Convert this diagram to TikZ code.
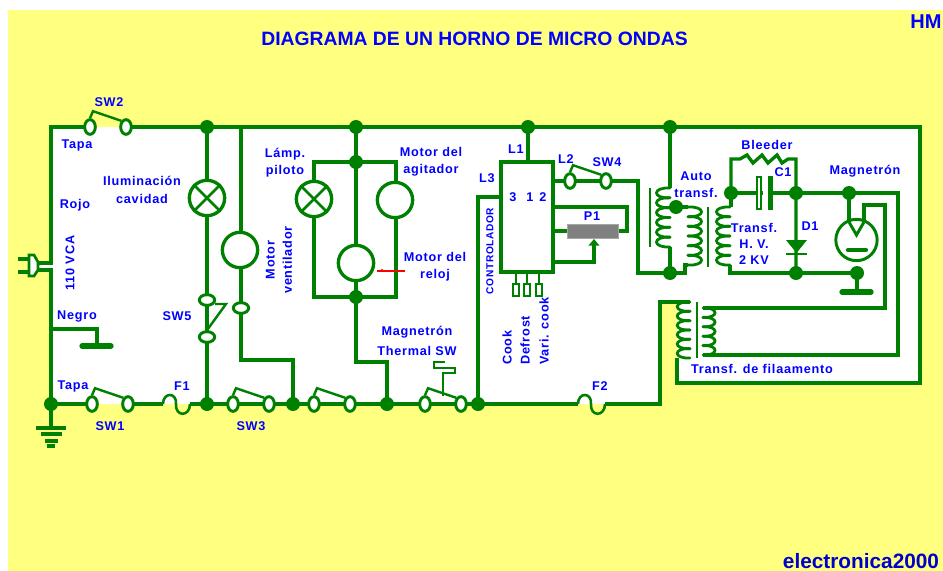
\documentclass[tikz,border=0pt]{standalone}
\usepackage{fontspec}
\setmainfont{Liberation Sans}
\newfontfamily\lblfont{Liberation Sans}[LetterSpace=6]
\usetikzlibrary{shapes.geometric,arrows.meta}
\definecolor{bgy}{HTML}{FFFF80}
\definecolor{wg}{HTML}{008000}
\definecolor{tb}{HTML}{0000FF}
\tikzset{
  wire/.style={draw=wg,line width=2.5pt,line join=miter},
  thinw/.style={draw=wg,line width=1.3pt},
  blade/.style={draw=wg,line width=1.8pt},
  junction/.style={circle,fill=wg,inner sep=0pt,minimum size=10.5pt},
  termh/.style={ellipse,draw=wg,line width=2.2pt,fill=white,inner sep=0pt,minimum width=8pt,minimum height=11pt},
  termv/.style={ellipse,draw=wg,line width=2.2pt,fill=white,inner sep=0pt,minimum width=11.5pt,minimum height=8pt},
  load/.style={circle,draw=wg,line width=2.5pt,fill=white,inner sep=0pt,minimum size=26.5pt},
  lbl/.style={text=tb,font=\lblfont\bfseries\fontsize{9.5}{11}\selectfont,inner sep=0pt,align=center},
  pin/.style={rectangle,draw=wg,line width=1.2pt,fill=white,inner sep=0pt,minimum width=4.5pt,minimum height=9pt},
  hbar/.style={draw=wg,line width=4pt,line cap=round},
  core/.style={draw=wg,line width=1.9pt}
}
\newcommand{\coil}[5]{% x, y0, n, pitch, signed bulge
  \foreach \k in {1,...,#3}{
    \draw[draw=wg,line width=2.1pt,line cap=round]
      ({#1},{#2+(\k-1)*#4}) .. controls ({#1+#5},{#2+(\k-1)*#4-1}) and ({#1+#5},{#2+\k*#4+1}) .. ({#1},{#2+\k*#4});
  }}
\begin{document}
\begin{tikzpicture}[x=0.75pt,y=-0.75pt]
\useasboundingbox (0,0) rectangle (943,571);
\fill[white] (0,0) rectangle (943,571);
\fill[bgy] (8,10) rectangle (943,571);
\fill[white] (51,127) -- (920,127) -- (920,383) -- (677,383) -- (677,302) -- (660,302) -- (660,404) -- (51,404) -- (51,270) -- (38,270) -- (38,263) -- (51,263) -- cycle;

% corner coordinates
\coordinate (cTL) at (51,127);
\coordinate (cTR) at (920,127);
\coordinate (cBR) at (920,383);
\coordinate (cBF) at (660,404);
\coordinate (cTF) at (660,302);
\coordinate (plugU) at (38,263);
\coordinate (plugL) at (38,270);
\coordinate (f1a) at (163,404);
\coordinate (f1b) at (190,404);
\coordinate (f2a) at (578,404);
\coordinate (f2b) at (605,404);
\coordinate (gnd1) at (51,428);
\coordinate (negA) at (51,329);
\coordinate (negB) at (97,329);
\coordinate (negC) at (97,346);
\coordinate (fanC) at (241,360);
\coordinate (relC) at (356,362);
\coordinate (relD) at (387,362);

% wires first
\draw[wire] (plugU) -- (51,263) -- (cTL) -- (90,127);
\draw[wire] (plugL) -- (51,270) -- (51,404) -- (gnd1);
\draw[wire] (127,127) -- (cTR) -- (cBR) -- (677,383) -- (677,358);
\draw[wire] (51,404) -- (92,404);
\draw[wire] (128,404) -- (f1a);
\draw[wire] (f1b) -- (207,404) -- (425,404);
\draw[wire] (425,404) -- (f2a);
\draw[wire] (f2b) -- (cBF) -- (cTF) -- (690,302);
\draw[wire] (negA) -- (negB) -- (negC);
\draw[wire] (207,127) -- (207,404);
\draw[wire] (241,127) -- (241,316) -- (fanC) -- (293,360) -- (293,404);
\draw[wire] (356,127) -- (relC) -- (relD) -- (387,404);
\draw[wire] (314,162) rectangle (396,297);
\draw[wire] (528,127) -- (528,162);
\draw[wire] (478,404) -- (478,197) -- (501,197);
\draw[wire] (553,181) -- (606,181) -- (638,181) -- (638,273) -- (670,273);
\draw[wire] (670,127) -- (670,188);
\draw[wire] (670,247) -- (670,273);
\draw[wire] (670,273) -- (685,273) -- (685,265) -- (688,265);
\draw[wire] (670,207) -- (688,207);
\draw[wire] (731,193) -- (731,207);
\draw[wire] (730,265) -- (730,273) -- (857,273) -- (857,292);
\draw[wire] (731,193) -- (731,159) -- (740,159) -- (747,155) -- (753,163) -- (762,155) -- (768,163) -- (777,155) -- (782,163) -- (788,159) -- (796,159) -- (796,273);
\draw[wire] (731,193) -- (898,193) -- (898,355) -- (703,355);
\draw[wire] (849,193) -- (849,222);
\draw[wire] (703,308) -- (885,308) -- (885,205) -- (864,205) -- (864,222);
\draw[wire] (553,207) -- (627,207) -- (627,231) -- (618,231);
\draw[wire] (553,231) -- (567,231);
\draw[wire,-{Triangle[length=5pt,width=8pt]}] (553,262) -- (594,262) -- (594,239);

% fuses
\draw[draw=wg,line width=1.9pt] (f1a) .. controls (163,392) and (177,392) .. (176,404) .. controls (175,417) and (190,417) .. (f1b);
\draw[draw=wg,line width=1.9pt] (f2a) .. controls (578,392) and (592,392) .. (591,404) .. controls (590,417) and (605,417) .. (f2b);

% ground and chassis
\draw[draw=wg,line width=2.4pt] (36,428) -- (66,428);
\draw[draw=wg,line width=2.4pt] (41,434) -- (62,434);
\draw[draw=wg,line width=2.4pt] (45,441) -- (58,441);
\draw[draw=wg,line width=2.4pt] (47,446) -- (55,446);
\draw[hbar] (82,346) -- (111,346);
\draw[hbar] (842,292) -- (871,292);

% plug
\draw[wire] (18,259) -- (30,259);
\draw[wire] (18,272) -- (30,272);
\draw[draw=wg,line width=2pt,fill=white] (29,255) -- (34,255) -- (38,262) -- (38,270) -- (34,276) -- (29,276) -- cycle;

% junctions
\node[junction] (dg) at (51,404) {};
\node[junction] (d1) at (207,127) {};
\node[junction] (d2) at (356,127) {};
\node[junction] (d2b) at (356,162) {};
\node[junction] (d2c) at (356,297) {};
\node[junction] (d3) at (528,127) {};
\node[junction] (d4) at (670,127) {};
\node[junction] (d5) at (207,404) {};
\node[junction] (d6) at (293,404) {};
\node[junction] (d7) at (387,404) {};
\node[junction] (d8) at (478,404) {};
\node[junction] (d9) at (676,207) {};
\node[junction] (d10) at (670,273) {};
\node[junction] (d11) at (731,193) {};
\node[junction] (d12) at (796,193) {};
\node[junction] (d13) at (849,193) {};
\node[junction] (d14) at (796,273) {};
\node[junction] (d15) at (857,273) {};

% terminals and blades
\foreach \n/\x/\y in {sw2/90/127,sw1/92/404,sw3/233/404,sw0/314/404,sw6/425/404,sw4/570/181}{
  \node[termh] (\n a) at (\x,\y) {};
  \node[termh] (\n b) at (\x+36,\y) {};
  \draw[blade] (\n a.north) -- ++(3,-7) -- (\n b.north west);
}
\node[termv] (sw5a) at (207,300) {};
\node[termv] (sw5b) at (207,337) {};
\draw[blade] (215,304) -- (226,304) -- (sw5b.north);
\node[termv] (fanT) at (241,308) {};

% loads
\node[load] (lamp1) at (207,198) {};
\draw[draw=wg,line width=2pt] (lamp1.45) -- (lamp1.225) (lamp1.135) -- (lamp1.-45);
\node[load] (lamp2) at (314,199) {};
\draw[draw=wg,line width=2pt] (lamp2.45) -- (lamp2.225) (lamp2.135) -- (lamp2.-45);
\node[load] (fan) at (240,250) {};
\node[load] (agi) at (395,200) {};
\node[load] (rel) at (356,263) {};
\draw[draw=red,line width=1.2pt] (405,271) -- (377,271);
\fill[red] (382,269) -- (385,271) -- (379,271) -- cycle;

% thermal switch
\draw[thinw] (443,396) -- (443,373) -- (455,373) -- (455,368) -- (434,368) -- (434,362) -- (445,362);

% controller
\node[rectangle,draw=wg,line width=2.5pt,fill=white,inner sep=0pt,minimum width=39pt,minimum height=82.5pt] (ctrl) at (527,217) {};
\node[pin] (p1) at (516,290) {};
\node[pin] (p2) at (527,290) {};
\node[pin] (p3) at (539,290) {};
\draw[thinw,line width=2pt] (p1) -- (516,272);
\draw[thinw,line width=2pt] (p2) -- (527,272);
\draw[thinw,line width=2pt] (p3) -- (539,272);
\node[rectangle,fill=black!50,draw=black!35,line width=.5pt,inner sep=0pt,minimum width=38pt,minimum height=10.5pt] (pot) at (592.5,231) {};

% transformers
\coil{670}{188}{6}{9.83}{-18}
\draw[core] (650,188) -- (650,247);
\coil{688}{207}{6}{9.67}{18}
\draw[core] (708,207) -- (708,267);
\coil{730}{207}{6}{9.67}{-18}
\coil{690}{302}{6}{9.33}{-17}
\coil{703}{308}{5}{9.4}{16}
\draw[core] (697,302) -- (697,358);

% C1 and D1
\node[rectangle,draw=wg,line width=1.3pt,fill=white,inner sep=0pt,minimum width=3.5pt,minimum height=24pt] (c1a) at (759,193) {};
\node[rectangle,fill=wg,inner sep=0pt,minimum width=4pt,minimum height=25pt] (c1b) at (770.5,193) {};
\fill[white] (762.5,186) rectangle (768,200);
\fill[wg] (786,240) -- (807,240) -- (796.5,253) -- cycle;
\draw[draw=wg,line width=2.2pt] (786,254) -- (807,254);

% magnetron
\node[circle,draw=wg,line width=2.2pt,inner sep=0pt,minimum size=31pt] (mag) at (856.5,240) {};
\draw[draw=wg,line width=2.2pt] (849,222) -- (856.5,235) -- (864,222);
\draw[draw=wg,line width=2.2pt] (849,220) -- (864,220);
\draw[draw=wg,line width=3.2pt,line cap=round] (848,250) -- (866,250);

% labels
\node[text=tb,font=\bfseries\fontsize{14.5}{17}\selectfont,inner sep=0pt] (title) at (474.5,39) {DIAGRAMA DE UN HORNO DE MICRO ONDAS};
\node[text=tb,font=\bfseries\fontsize{15}{17}\selectfont,inner sep=0pt] (hm) at (926,22) {HM};
\node[text=blue!80!black,font=\bfseries\fontsize{15.6}{18}\selectfont,inner sep=0pt] (el) at (861,561) {electronica2000};
\node[lbl] (tsw2) at (109,102) {SW2};
\node[lbl] (ttapa1) at (77,145) {Tapa};
\node[lbl] (tilum) at (142,190) {Iluminación\\[2pt]cavidad};
\node[lbl] (trojo) at (75,205) {Rojo};
\node[lbl,rotate=90] (tvca) at (70,263) {110 VCA};
\node[lbl] (tneg) at (77,316) {Negro};
\node[lbl] (ttapa2) at (73,386) {Tapa};
\node[lbl] (tsw1) at (110,426) {SW1};
\node[lbl] (tf1) at (182,386) {F1};
\node[lbl] (tsw3) at (251,426) {SW3};
\node[lbl] (tsw5) at (177,316) {SW5};
\node[lbl,rotate=90] (tfan) at (279,260) {Motor\\[2pt]ventilador};
\node[lbl] (tlp) at (285,163) {Lámp.\\[2pt]piloto};
\node[lbl] (tagi) at (431,162) {Motor del\\[2pt]agitador};
\node[lbl] (trel) at (435,267) {Motor del\\[2pt]reloj};
\node[lbl] (tmt) at (417,341) {Magnetrón\\[4pt]Thermal SW};
\node[lbl] (tl1) at (516,149) {L1};
\node[lbl] (tl2) at (566,159) {L2};
\node[lbl] (tl3) at (487,178) {L3};
\node[lbl] (tsw4) at (607,162) {SW4};
\node[lbl,rotate=90,font=\lblfont\bfseries\fontsize{7.6}{9}\selectfont] (tctl) at (490,251) {CONTROLADOR};
\node[lbl] (t3) at (513,197) {3};
\node[lbl] (t1) at (530,197) {1};
\node[lbl] (t2) at (543,197) {2};
\node[lbl] (tp1) at (592,216) {P1};
\node[lbl,rotate=90,anchor=west] (tck) at (507,365) {Cook};
\node[lbl,rotate=90,anchor=west] (tdf) at (525,365) {Defrost};
\node[lbl,rotate=90,anchor=west] (tvc) at (544,365) {Vari. cook};
\node[lbl] (tauto) at (696,185) {Auto\\[2pt]transf.};
\node[lbl] (tbl) at (767,145) {Bleeder};
\node[lbl] (tc1) at (783,172) {C1};
\node[lbl] (tmg) at (865,171) {Magnetrón};
\node[lbl] (thv) at (754,244) {Transf.\\[1pt]H. V.\\[1pt]2 KV};
\node[lbl] (td1) at (810,226) {D1};
\node[lbl] (ttf) at (762,369) {Transf. de filaamento};
\node[lbl] (tf2) at (600,386) {F2};
\end{tikzpicture}
\end{document}
